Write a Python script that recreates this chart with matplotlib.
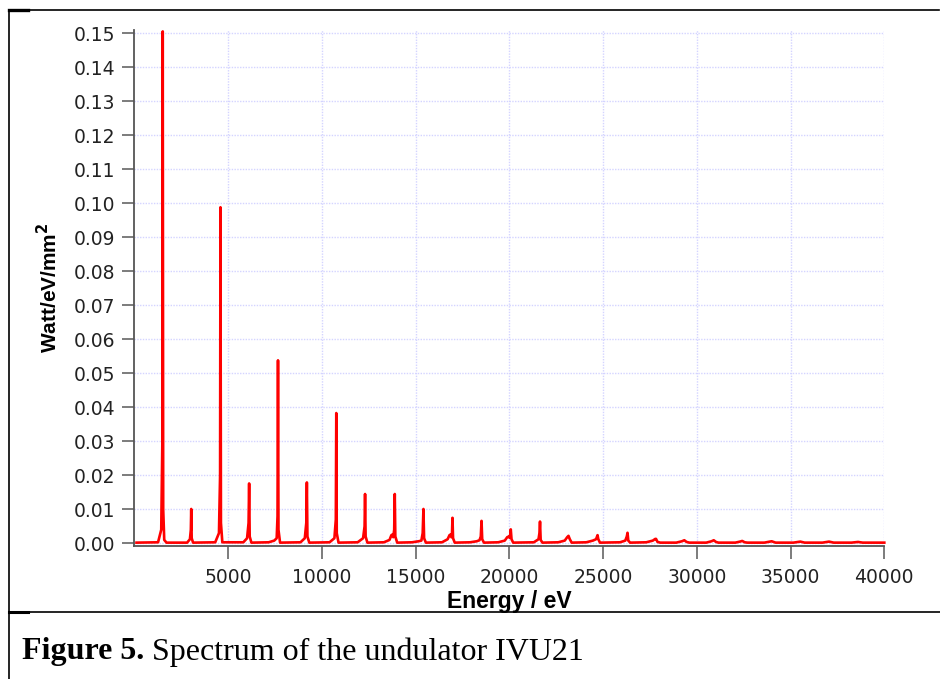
import matplotlib
matplotlib.use("Agg")
import matplotlib.pyplot as plt
from matplotlib.lines import Line2D

# ---- data (energy in eV, intensity in Watt/eV/mm^2) ----
energy = [
    100, 1250, 1420, 1480, 1500, 1525, 1580, 1700,
    2800, 2950, 3000, 3020, 3045, 3120,
    4300, 4500, 4560, 4580, 4605, 4680,
    5800, 6000, 6080, 6110, 6140, 6230,
    7150, 7450, 7580, 7625, 7650, 7675, 7760,
    8850, 9080, 9160, 9190, 9220, 9320,
    10400, 10660, 10735, 10760, 10785, 10880,
    11900, 12190, 12270, 12295, 12325, 12420,
    13300, 13600, 13700, 13760, 13800, 13850, 13880, 13910, 14010,
    14800, 15150, 15300, 15370, 15410, 15445, 15540,
    16400, 16700, 16800, 16860, 16900, 16935, 16960, 16990, 17080,
    17900, 18250, 18400, 18470, 18510, 18545, 18640,
    19400, 19750, 19880, 19960, 20010, 20040, 20070, 20110, 20200,
    21300, 21550, 21600, 21630, 21665, 21760,
    22600, 22950, 23080, 23150, 23220, 23320,
    24100, 24450, 24620, 24670, 24700, 24740, 24830,
    25900, 26180, 26260, 26300, 26340, 26440,
    27300, 27650, 27780, 27820, 27900, 28050,
    28900, 29200, 29330, 29450, 29600,
    30500, 30780, 30900, 31020, 31150,
    32050, 32300, 32420, 32550, 32700,
    33600, 33990, 34200,
    35150, 35520, 35750,
    36700, 37050, 37300,
    38250, 38600, 38850,
    40000,
]
watt = [
    0.0002, 0.0003, 0.0040, 0.0300, 0.1505, 0.0100, 0.0010, 0.0002,
    0.0002, 0.0012, 0.0040, 0.0101, 0.0015, 0.0002,
    0.0003, 0.0030, 0.0200, 0.0988, 0.0060, 0.0003,
    0.0003, 0.0015, 0.0060, 0.0176, 0.0020, 0.0002,
    0.0003, 0.0008, 0.0015, 0.0080, 0.0538, 0.0040, 0.0002,
    0.0003, 0.0015, 0.0060, 0.0179, 0.0020, 0.0002,
    0.0003, 0.0015, 0.0070, 0.0383, 0.0030, 0.0002,
    0.0003, 0.0015, 0.0050, 0.0145, 0.0020, 0.0002,
    0.0003, 0.0010, 0.0024, 0.0026, 0.0018, 0.0040, 0.0145, 0.0020, 0.0002,
    0.0003, 0.0006, 0.0008, 0.0030, 0.0101, 0.0015, 0.0002,
    0.0003, 0.0012, 0.0024, 0.0026, 0.0018, 0.0030, 0.0075, 0.0015, 0.0002,
    0.0003, 0.0006, 0.0009, 0.0020, 0.0066, 0.0012, 0.0002,
    0.0003, 0.0008, 0.0018, 0.0020, 0.0016, 0.0025, 0.0041, 0.0012, 0.0002,
    0.0003, 0.0012, 0.0030, 0.0064, 0.0010, 0.0002,
    0.0003, 0.0008, 0.0018, 0.0022, 0.0012, 0.0002,
    0.0003, 0.0008, 0.0012, 0.0020, 0.0024, 0.0012, 0.0002,
    0.0003, 0.0008, 0.0020, 0.0031, 0.0008, 0.0002,
    0.0003, 0.0008, 0.0013, 0.0013, 0.0004, 0.0002,
    0.0002, 0.0006, 0.0009, 0.0004, 0.0002,
    0.0002, 0.0006, 0.0009, 0.0004, 0.0002,
    0.0002, 0.0005, 0.0007, 0.0003, 0.0002,
    0.0002, 0.0006, 0.0002,
    0.0002, 0.0005, 0.0002,
    0.0002, 0.0005, 0.0002,
    0.0002, 0.0004, 0.0002,
    0.0002,
]

x_ticks = [5000, 10000, 15000, 20000, 25000, 30000, 35000, 40000]
y_ticks = [0.00, 0.01, 0.02, 0.03, 0.04, 0.05, 0.06, 0.07, 0.08,
           0.09, 0.10, 0.11, 0.12, 0.13, 0.14, 0.15]
x_label = "Energy / eV"
y_label = "Watt/eV/mm$\\mathbf{^2}$"
caption_bold = "Figure 5."
caption_rest = " Spectrum of the undulator IVU21"

W, H = 940, 679
fig = plt.figure(figsize=(W / 100, H / 100), dpi=100)
fig.patch.set_facecolor("white")

ax = fig.add_axes([133.5 / W, (H - 545.7) / H, 750.8 / W, 516 / H])
ax.plot(energy, watt, color="#ff0000", lw=1.9, solid_joinstyle="round", clip_on=False, zorder=3)

ax.set_xlim(-60, 40000)
ax.set_ylim(-0.0007, 0.1510)
ax.set_xticks(x_ticks)
ax.set_xticklabels([str(v) for v in x_ticks])
ax.set_yticks(y_ticks)
ax.set_yticklabels(["%.2f" % v for v in y_ticks])

for s in ["top", "right"]:
    ax.spines[s].set_visible(False)
for s in ["left", "bottom"]:
    ax.spines[s].set_color("#555555")
    ax.spines[s].set_linewidth(1.3)

ax.tick_params(axis="both", direction="out", length=9, width=1.2, color="#666666",
               labelsize=13.5, labelcolor="#222222")
ax.tick_params(axis="x", pad=7)
ax.tick_params(axis="y", pad=4)
ax.grid(True, color="#d4d4ff", lw=1.0, ls=(0, (1, 1)))
ax.set_axisbelow(True)

ax.set_xlabel(x_label, fontsize=16.5, fontweight="bold", family="Liberation Sans", labelpad=2)
ax.set_ylabel(y_label, fontsize=15, fontweight="bold", family="Liberation Sans", labelpad=9)

# frame lines around the figure panel
def fl(x0, y0, x1, y1, lw=1.2):
    fig.add_artist(Line2D([x0 / W, x1 / W], [1 - y0 / H, 1 - y1 / H], color="black", lw=lw,
                          transform=fig.transFigure))

fl(9, 10, 9, 679)
fl(9, 10, 939, 10)
fl(9, 612, 940, 612)
fl(9, 10, 28, 10, lw=2.4)
fl(9, 612, 28, 612, lw=2.2)

t = fig.text(22 / W, 1 - 652 / H, caption_bold, fontsize=23, fontweight="bold",
             family="Liberation Serif", va="center", ha="left")
fig.canvas.draw()
bb = t.get_window_extent()
fig.text(bb.x1 / W, 1 - 652 / H, caption_rest, fontsize=23, family="Liberation Serif",
         va="center", ha="left")

fig.savefig("out.png", dpi=100)
